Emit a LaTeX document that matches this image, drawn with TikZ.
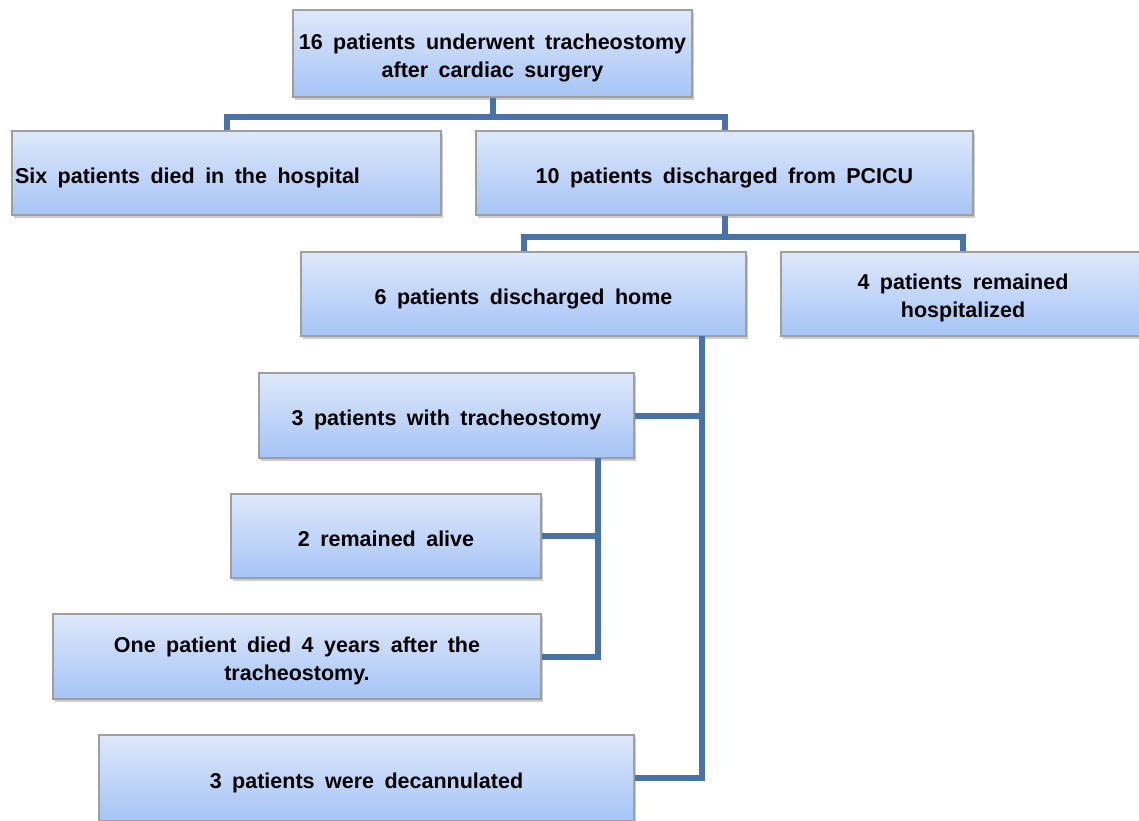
\documentclass[tikz,border=0pt]{standalone}
\usepackage{fontspec}
\setmainfont{Liberation Sans}[WordSpace=1.75]
\usetikzlibrary{shadows}
\definecolor{boxtop}{RGB}{222,232,251}
\definecolor{boxbot}{RGB}{166,196,246}
\definecolor{linkblue}{RGB}{72,114,168}
\begin{document}
\begin{tikzpicture}[x=1pt, y=-1pt, font=\fontsize{21.5}{28}\selectfont\bfseries,
	box/.style={draw=gray!75, line width=1.2pt, top color=boxtop, bottom color=boxbot,
		align=center, inner sep=3pt, text height=20pt, text depth=0pt,
		drop shadow={shadow xshift=2pt, shadow yshift=-3pt, opacity=0.4}},
	twoline/.style={text height=47pt},
	link/.style={draw=linkblue, line width=6pt, line join=miter}]
	\useasboundingbox (0,0) rectangle (1139,820);
	\clip (0,0) rectangle (1139,820);
	% boxes
	\node[box, twoline, minimum width=399, minimum height=87] (all) at (492.5,53.5)
		{16 patients underwent tracheostomy\\after cardiac surgery};
	\node[box, minimum width=429, minimum height=84] (died) at (226.5,173)
		{\makebox[423pt][l]{Six patients died in the hospital}};
	\node[box, minimum width=497, minimum height=84] (pcicu) at (724.5,173)
		{10 patients discharged from PCICU};
	\node[box, minimum width=445, minimum height=84] (home) at (523.5,294)
		{6 patients discharged home};
	\node[box, twoline, minimum width=364, minimum height=84] (hosp) at (963,294)
		{4 patients remained\\hospitalized};
	\node[box, minimum width=375, minimum height=85] (trach) at (446.5,415.5)
		{3 patients with tracheostomy};
	\node[box, minimum width=310, minimum height=84] (alive) at (386,536)
		{2 remained alive};
	\node[box, twoline, minimum width=488, minimum height=85] (later) at (297,656.5)
		{One patient died 4 years after the\\tracheostomy.};
	\node[box, minimum width=535, minimum height=86] (decan) at (366.5,778)
		{3 patients were decannulated};
	% junctions
	\path (492.5,117) coordinate (J1)
		(724.5,237) coordinate (J2)
		(702,336) coordinate (H)
		(598,458) coordinate (T);
	% connectors
	\draw[link] (all.south) -- (J1);
	\draw[link] (died.north) |- (J1) -| (pcicu.north);
	\draw[link] (pcicu.south) -- (J2);
	\draw[link] (home.north) |- (J2) -| (hosp.north);
	\draw[link] (H) |- (decan.east);
	\draw[link] (trach.east) -- (trach.east -| H);
	\draw[link] (T) |- (later.east);
	\draw[link] (alive.east) -- (alive.east -| T);
\end{tikzpicture}
\end{document}
